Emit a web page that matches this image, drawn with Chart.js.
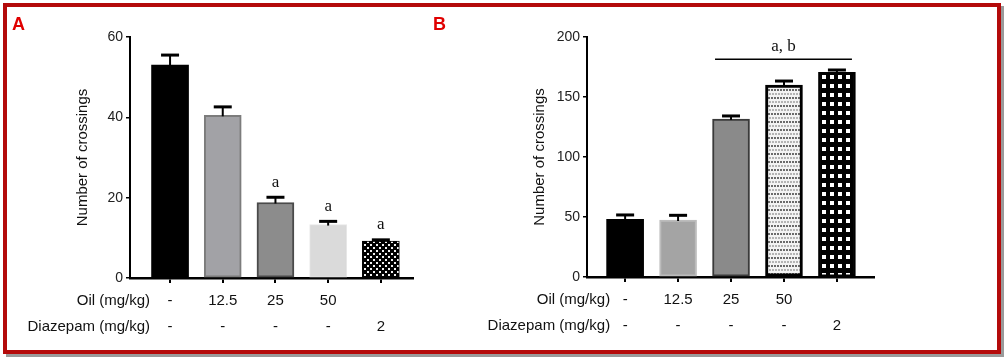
<!DOCTYPE html>
<html>
<head>
<meta charset="utf-8">
<script src="https://cdn.jsdelivr.net/npm/chart.js@4.4.1/dist/chart.umd.min.js"></script>
<style>
  html, body { margin: 0; padding: 0; background: #ffffff; width: 1006px; height: 359px; overflow: hidden; }
  #frame { position: absolute; left: 3px; top: 3px; width: 990px; height: 343px;
           border: 4px solid #b40a0a; box-shadow: 3px 3px 0 #9a9a9a; background: #fff; }
  #wrapA { position: absolute; left: 0; top: 0; width: 420px; height: 359px; }
  #wrapB { position: absolute; left: 420px; top: 0; width: 586px; height: 359px; }
</style>
</head>
<body>
<div id="frame"></div>
<div id="wrapA"><canvas id="chartA"></canvas></div>
<div id="wrapB"><canvas id="chartB"></canvas></div>
<script>
// ---------------- DATA ----------------
const categories = ['Control', 'Oil 12.5', 'Oil 25', 'Oil 50', 'Diazepam 2'];
const oilDoseLabels = ['-', '12.5', '25', '50', ''];
const diazepamDoseLabels = ['-', '-', '-', '-', '2'];
const rowTitles = ['Oil (mg/kg)', 'Diazepam (mg/kg)'];
const yTitle = 'Number of crossings';

// Panel A
const crossingsA = [53.0, 40.5, 18.8, 13.3, 9.2];
const errorTopA = [55.5, 42.6, 20.1, 14.1, 9.5];
const significanceA = ['', '', 'a', 'a', 'a'];
const yTicksA = [0, 20, 40, 60];

// Panel B
const crossingsB = [48.0, 47.5, 131.7, 160.0, 170.6];
const errorTopB = [51.7, 51.4, 134.2, 163.3, 172.5];
const significanceB = ['', '', '', '', ''];
const bracketB = { from: 2, to: 4, value: 181.5, label: 'a, b' };
const yTicksB = [0, 50, 100, 150, 200];

// ---------------- STYLE HELPERS ----------------
Chart.defaults.font.family = '"Liberation Sans", Arial, sans-serif';
Chart.defaults.color = '#111';

function makePattern(w, h, draw) {
  const c = document.createElement('canvas');
  c.width = w; c.height = h;
  const g = c.getContext('2d');
  draw(g);
  return g.createPattern(c, 'repeat');
}
const checkerDots = makePattern(6, 6, g => {
  g.fillStyle = '#000'; g.fillRect(0, 0, 6, 6);
  g.fillStyle = '#f2f2f2'; g.fillRect(1, 1, 2, 2); g.fillRect(4, 4, 2, 2);
});
const fineDots = makePattern(3, 8, g => {
  g.fillStyle = '#f3f3f3'; g.fillRect(0, 0, 3, 8);
  g.fillStyle = '#6a6a6a'; g.fillRect(0, 1, 2, 2);
  g.fillStyle = '#b4b4b4'; g.fillRect(1, 5, 2, 2);
});
const whiteGrid = makePattern(8, 9, g => {
  g.fillStyle = '#000'; g.fillRect(0, 0, 8, 9);
  g.fillStyle = '#fff'; g.fillRect(2, 3, 4, 4);
});

// ---------------- PLUGINS ----------------
const decorPlugin = {
  id: 'decor',
  afterDatasetsDraw(chart, args, opts) {
    const { ctx } = chart;
    const yScale = chart.scales.y;
    const meta = chart.getDatasetMeta(0);
    ctx.save();
    // error bars (upper SEM)
    (opts.errorTops || []).forEach((top, i) => {
      const bar = meta.data[i];
      const px = bar.x;
      const yTop = yScale.getPixelForValue(top);
      ctx.strokeStyle = '#000';
      ctx.lineWidth = 2;
      ctx.beginPath(); ctx.moveTo(px, bar.y + 1); ctx.lineTo(px, yTop); ctx.stroke();
      ctx.lineWidth = 3;
      ctx.beginPath(); ctx.moveTo(px - 9, yTop); ctx.lineTo(px + 9, yTop); ctx.stroke();
      const sig = (opts.significance || [])[i];
      if (sig) {
        ctx.fillStyle = '#111';
        ctx.font = '17px "Liberation Serif", "Times New Roman", serif';
        ctx.textAlign = 'center';
        ctx.textBaseline = 'middle';
        ctx.fillText(sig, px, yTop - 15);
      }
    });
    // bracket
    if (opts.bracket) {
      const b = opts.bracket;
      const x1 = meta.data[b.from].x - 16;
      const x2 = meta.data[b.to].x + 15;
      const yy = yScale.getPixelForValue(b.value);
      ctx.strokeStyle = '#000';
      ctx.lineWidth = 1.5;
      ctx.beginPath(); ctx.moveTo(x1, yy); ctx.lineTo(x2, yy); ctx.stroke();
      ctx.fillStyle = '#111';
      ctx.font = '17px "Liberation Serif", "Times New Roman", serif';
      ctx.textAlign = 'center';
      ctx.textBaseline = 'middle';
      ctx.fillText(b.label, (x1 + x2) / 2, yy - 13);
    }
    ctx.restore();
  },
  afterDraw(chart, args, opts) {
    const { ctx } = chart;
    const xScale = chart.scales.x;
    ctx.save();
    // panel letter
    ctx.fillStyle = '#e00000';
    ctx.font = 'bold 18px "Liberation Sans", Arial, sans-serif';
    ctx.textAlign = 'left';
    ctx.textBaseline = 'alphabetic';
    ctx.fillText(opts.letter, opts.letterX, 30);
    // row titles aligned with the tick label rows
    const items = xScale.getLabelItems();
    const it = items[0];
    const font = it.font;
    const firstX = xScale.getPixelForValue(0);
    ctx.fillStyle = '#111';
    ctx.font = font.string;
    ctx.textAlign = 'right';
    ctx.textBaseline = it.options.textBaseline;
    let y = it.options.translation[1] + it.textOffset;
    rowTitles.forEach(t => {
      ctx.fillText(t, firstX - opts.rowTitleGap, y);
      y += font.lineHeight;
    });
    ctx.restore();
  }
};

function buildChart(id, cfg) {
  return new Chart(document.getElementById(id), {
    type: 'bar',
    data: {
      datasets: [{
        data: categories.map((c, i) => ({ x: i, y: cfg.values[i] })),
        backgroundColor: cfg.fills,
        borderColor: cfg.borders,
        borderWidth: cfg.borderWidths,
        borderSkipped: false,
        barThickness: 37
      }]
    },
    options: {
      responsive: true,
      maintainAspectRatio: false,
      animation: false,
      events: [],
      layout: { padding: { left: cfg.padLeft, right: cfg.padRight, top: 37, bottom: 0 } },
      plugins: {
        legend: { display: false },
        tooltip: { enabled: false },
        decor: {
          errorTops: cfg.errorTops,
          significance: cfg.significance,
          bracket: cfg.bracket,
          letter: cfg.letter,
          letterX: cfg.letterX,
          rowTitleGap: cfg.rowTitleGap
        }
      },
      scales: {
        x: {
          type: 'linear',
          min: cfg.xMin,
          max: cfg.xMax,
          offset: false,
          afterFit: s => { s.height = cfg.xHeight; },
          afterBuildTicks: s => { s.ticks = categories.map((c, i) => ({ value: i })); },
          border: { display: true, color: '#000', width: 2.5 },
          grid: { offset: false, drawOnChartArea: false, drawTicks: true, tickLength: 5, color: '#000', lineWidth: 2 },
          ticks: {
            autoSkip: false, maxRotation: 0, padding: 5,
            color: '#111',
            font: { size: 15, lineHeight: '26px' },
            callback: v => [oilDoseLabels[v], diazepamDoseLabels[v]]
          }
        },
        y: {
          min: 0,
          max: cfg.yTicks[cfg.yTicks.length - 1],
          afterFit: s => { s.width = 60; },
          afterBuildTicks: s => { s.ticks = cfg.yTicks.map(v => ({ value: v })); },
          border: { display: true, color: '#000', width: 2 },
          grid: { drawOnChartArea: false, drawTicks: true, tickLength: 4, color: '#000', lineWidth: 1.5 },
          ticks: { padding: 3, color: '#222', font: { size: 14 } },
          title: { display: true, text: yTitle, color: '#111', font: { size: 15 }, padding: { top: 4, bottom: 4 } }
        }
      }
    },
    plugins: [decorPlugin]
  });
}

buildChart('chartA', {
  values: crossingsA,
  errorTops: errorTopA,
  significance: significanceA,
  bracket: null,
  yTicks: yTicksA,
  fills: ['#000000', '#a2a2a6', '#8c8c8c', '#dadada', checkerDots],
  borders: ['#000000', '#7c7c7c', '#4a4a4a', '#e6e6e6', '#000000'],
  borderWidths: [0, 2, 2, 1, 1],
  padLeft: 70, padRight: 7, xHeight: 81,
  xMin: -0.76, xMax: 4.61,
  letter: 'A', letterX: 12, rowTitleGap: 20
});

buildChart('chartB', {
  values: crossingsB,
  errorTops: errorTopB,
  significance: significanceB,
  bracket: bracketB,
  yTicks: yTicksB,
  fills: ['#000000', '#a4a4a4', '#8a8a8a', fineDots, whiteGrid],
  borders: ['#000000', '#bcbcbc', '#3a3a3a', '#000000', '#000000'],
  borderWidths: [0, 2, 2, 3, 2],
  padLeft: 107, padRight: 132, xHeight: 82,
  xMin: -0.72, xMax: 4.70,
  letter: 'B', letterX: 13, rowTitleGap: 15
});
</script>
</body>
</html>
